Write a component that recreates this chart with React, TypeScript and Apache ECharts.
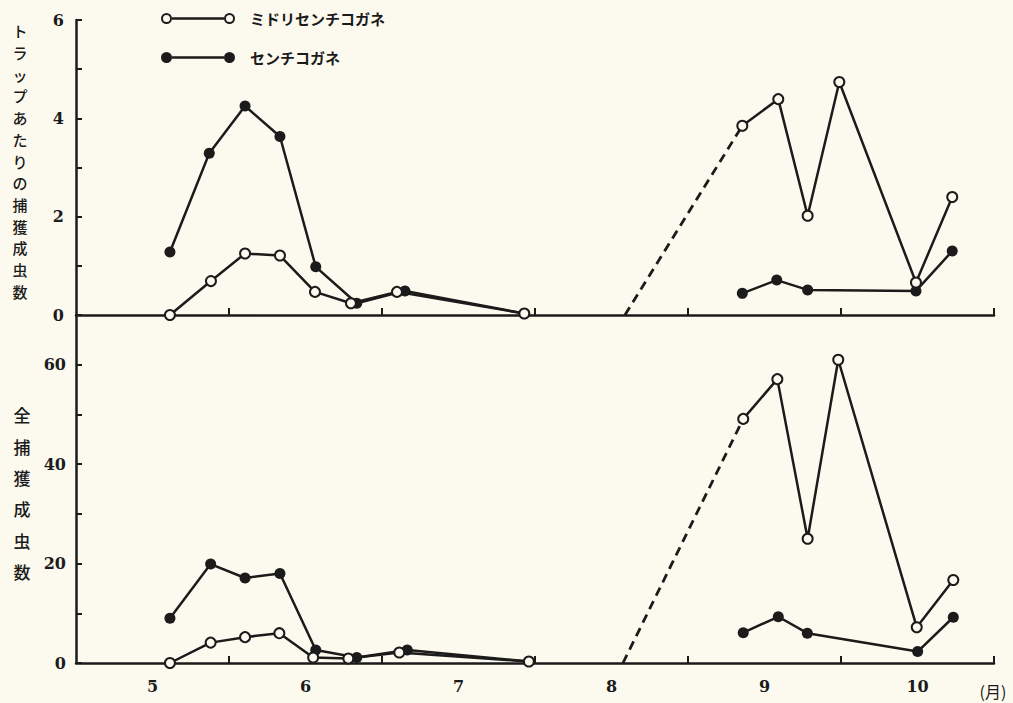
import React, { useEffect, useRef } from 'react';
import * as echarts from 'echarts';

const SP1 = 'ミドリセンチコガネ';
const SP2 = 'センチコガネ';

const monthTicks = [6, 7, 8, 9, 10, 11];
const monthLabelPos = [5.5, 6.5, 7.5, 8.5, 9.5, 10.5];
const monthLabels = ['5', '6', '7', '8', '9', '10'];

const topTitle = 'トラップあたりの捕獲成虫数';
const bottomTitle = '全捕獲成虫数';
const unitLabel = '(月)';

// Top panel: adults per trap  [month position, value]
const trapMidoriEarly: [number, number][] = [
  [5.614, 0], [5.882, 0.69], [6.105, 1.25], [6.333, 1.21], [6.562, 0.47],
  [6.797, 0.24], [7.098, 0.47], [7.93, 0.03],
];
const trapMidoriLate: [number, number][] = [
  [9.355, 3.85], [9.59, 4.39], [9.782, 2.02], [9.989, 4.74], [10.49, 0.66], [10.727, 2.4],
];
const trapMidoriDashed: [number, number][] = [[8.588, 0], [9.355, 3.85]];
const trapSenchiEarly: [number, number][] = [
  [5.614, 1.28], [5.871, 3.29], [6.105, 4.25], [6.333, 3.63], [6.567, 0.98],
  [6.835, 0.24], [7.15, 0.49], [7.93, 0.03],
];
const trapSenchiLate: [number, number][] = [
  [9.355, 0.44], [9.58, 0.71], [9.782, 0.51], [10.49, 0.49], [10.727, 1.3],
];

// Bottom panel: total adults caught
const totalMidoriEarly: [number, number][] = [
  [5.614, 0], [5.88, 4.1], [6.105, 5.2], [6.329, 6.0], [6.55, 1.1],
  [6.78, 0.9], [7.113, 2.1], [7.96, 0.3],
];
const totalMidoriLate: [number, number][] = [
  [9.361, 49.1], [9.584, 57.1], [9.782, 25.0], [9.982, 61.0], [10.495, 7.2], [10.734, 16.7],
];
const totalMidoriDashed: [number, number][] = [[8.575, 0], [9.361, 49.1]];
const totalSenchiEarly: [number, number][] = [
  [5.614, 9.0], [5.88, 19.9], [6.105, 17.1], [6.333, 18.0], [6.567, 2.6],
  [6.835, 1.1], [7.165, 2.6], [7.96, 0.3],
];
const totalSenchiLate: [number, number][] = [
  [9.361, 6.1], [9.59, 9.3], [9.78, 6.0], [10.501, 2.3], [10.734, 9.2],
];

const INK = '#1b1b1b';
const PAPER = '#fcfaef';

const OPEN_ICON =
  'path://M0,5.5 A5.5,5.5 0 1,1 11,5.5 A5.5,5.5 0 1,1 0,5.5 Z ' +
  'M2,5.5 A3.5,3.5 0 1,0 9,5.5 A3.5,3.5 0 1,0 2,5.5 Z ' +
  'M63,5.5 A5.5,5.5 0 1,1 74,5.5 A5.5,5.5 0 1,1 63,5.5 Z ' +
  'M65,5.5 A3.5,3.5 0 1,0 72,5.5 A3.5,3.5 0 1,0 65,5.5 Z ' +
  'M11,4.3 L63,4.3 L63,6.7 L11,6.7 Z';
const FILLED_ICON =
  'path://M0,5.5 A5.5,5.5 0 1,1 11,5.5 A5.5,5.5 0 1,1 0,5.5 Z ' +
  'M63,5.5 A5.5,5.5 0 1,1 74,5.5 A5.5,5.5 0 1,1 63,5.5 Z ' +
  'M11,4.3 L63,4.3 L63,6.7 L11,6.7 Z';

const numFont = { fontFamily: 'DejaVu Serif', fontWeight: 'bold' as const, fontSize: 16, color: INK };

function openSeries(name: string, data: [number, number][], xi: number) {
  return {
    type: 'line', name, data, xAxisIndex: xi, yAxisIndex: xi, z: 4,
    symbol: 'circle', symbolSize: 10, showSymbol: true, silent: true,
    lineStyle: { color: INK, width: 2.5 },
    itemStyle: { color: PAPER, borderColor: INK, borderWidth: 2 },
  };
}
function filledSeries(name: string, data: [number, number][], xi: number) {
  return {
    type: 'line', name, data, xAxisIndex: xi, yAxisIndex: xi, z: 3,
    symbol: 'circle', symbolSize: 11, showSymbol: true, silent: true,
    lineStyle: { color: INK, width: 2.5 },
    itemStyle: { color: INK, borderWidth: 0 },
  };
}
function dashedSeries(name: string, data: [number, number][], xi: number) {
  return {
    type: 'line', name, data, xAxisIndex: xi, yAxisIndex: xi, z: 2,
    symbol: 'none', silent: true,
    lineStyle: { color: INK, width: 2.8, type: [9, 6] },
  };
}

function xAxis(gridIndex: number, showLabels: boolean) {
  return {
    type: 'value', gridIndex, min: 5, max: 11,
    axisLine: { show: true, lineStyle: { color: INK, width: 2.5 } },
    axisTick: { show: true, inside: true, length: 7, customValues: monthTicks, lineStyle: { color: INK, width: 2 } },
    splitLine: { show: false },
    axisLabel: showLabels
      ? { show: true, customValues: monthLabelPos, margin: 15, formatter: (v: number) => monthLabels[Math.round(v - 5.5)] ?? '', ...numFont }
      : { show: false },
  };
}

export default function App() {
  const ref = useRef<HTMLDivElement>(null);
  useEffect(() => {
    if (!ref.current) return;
    const chart = echarts.init(ref.current, null, { renderer: 'svg' });
    chart.setOption({
      animation: false,
      backgroundColor: PAPER,
      grid: [
        { left: 76, top: 20, width: 918, height: 295 },
        { left: 76, top: 315, width: 918, height: 348 },
      ],
      legend: {
        orient: 'vertical', left: 156, top: 6, itemWidth: 74, itemHeight: 11, itemGap: 24,
        selectedMode: false,
        textStyle: { fontFamily: 'Noto Sans CJK JP', fontSize: 15, fontWeight: 'bold', color: INK, padding: [0, 0, 0, 10] },
        data: [
          { name: SP1, icon: OPEN_ICON, itemStyle: { color: INK, borderWidth: 0, borderColor: 'transparent' } },
          { name: SP2, icon: FILLED_ICON, itemStyle: { color: INK, borderWidth: 0, borderColor: 'transparent' } },
        ],
      },
      xAxis: [xAxis(0, false), xAxis(1, true)],
      yAxis: [
        {
          type: 'value', gridIndex: 0, min: 0, max: 6, interval: 1,
          axisLine: { show: true, lineStyle: { color: INK, width: 2.5 } },
          axisTick: { show: true, inside: true, length: 6, lineStyle: { color: INK, width: 2 } },
          splitLine: { show: false },
          axisLabel: { margin: 12, formatter: (v: number) => (v % 2 === 0 ? String(v) : ''), ...numFont },
        },
        {
          type: 'value', gridIndex: 1, min: 0, max: 70, interval: 10,
          axisLine: { show: true, lineStyle: { color: INK, width: 2.5 } },
          axisTick: { show: true, inside: true, length: 6, lineStyle: { color: INK, width: 2 } },
          splitLine: { show: false },
          axisLabel: { margin: 10, formatter: (v: number) => (v % 20 === 0 && v <= 60 ? String(v) : ''), ...numFont },
        },
      ],
      graphic: [
        {
          type: 'text', x: 20, y: 20,
          style: {
            text: topTitle.split('').join('\n'), fill: INK, lineHeight: 21.7,
            font: '500 15px "Noto Sans CJK JP"', textAlign: 'center', textVerticalAlign: 'top',
          },
        },
        {
          type: 'text', x: 22, y: 399,
          style: {
            text: bottomTitle.split('').join('\n'), fill: INK, lineHeight: 31.4,
            font: '500 17px "Noto Sans CJK JP"', textAlign: 'center', textVerticalAlign: 'top',
          },
        },
        {
          type: 'text', x: 993, y: 691,
          style: { text: unitLabel, fill: INK, font: '16px "Noto Sans CJK JP"', textAlign: 'center', textVerticalAlign: 'middle' },
        },
      ],
      series: [
        dashedSeries(SP1, trapMidoriDashed, 0),
        filledSeries(SP2, trapSenchiEarly, 0),
        filledSeries(SP2, trapSenchiLate, 0),
        openSeries(SP1, trapMidoriEarly, 0),
        openSeries(SP1, trapMidoriLate, 0),
        dashedSeries(SP1, totalMidoriDashed, 1),
        filledSeries(SP2, totalSenchiEarly, 1),
        filledSeries(SP2, totalSenchiLate, 1),
        openSeries(SP1, totalMidoriEarly, 1),
        openSeries(SP1, totalMidoriLate, 1),
      ],
    });
    return () => chart.dispose();
  }, []);
  return (
    <div
      ref={ref}
      style={{ position: 'fixed', left: 0, top: 0, width: 1013, height: 703, background: PAPER }}
    />
  );
}
